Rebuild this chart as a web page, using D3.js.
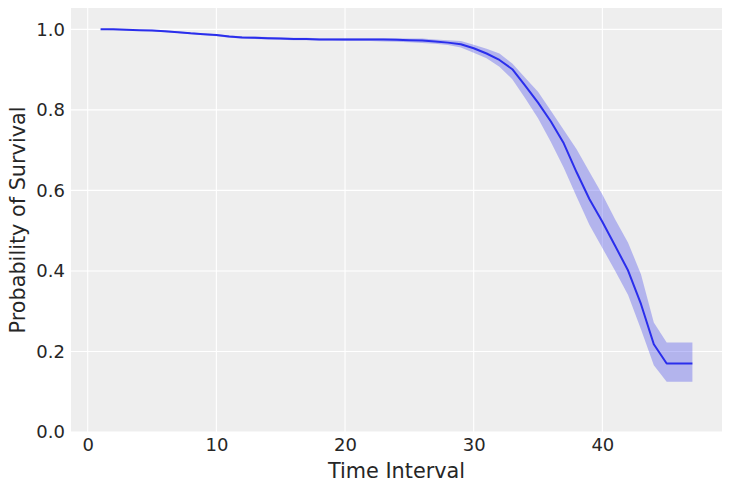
<!DOCTYPE html>
<html>
<head>
<meta charset="utf-8">
<script src="https://cdn.jsdelivr.net/npm/d3@7"></script>
<style>
  html, body { margin: 0; padding: 0; background: #fff; }
  svg { display: block; font-family: "DejaVu Sans", sans-serif; }
</style>
</head>
<body>
<div id="chart"></div>
<script>
// time interval index
const times = d3.range(1, 48);

// posterior mean survival
const survival = [
  1.000, 1.000, 0.999, 0.998, 0.997, 0.995, 0.993, 0.990, 0.988, 0.986,
  0.982, 0.980, 0.979, 0.978, 0.977, 0.976, 0.976, 0.975, 0.975, 0.975,
  0.975, 0.975, 0.975, 0.974, 0.973, 0.972, 0.970, 0.967, 0.963, 0.953,
  0.940, 0.924, 0.901, 0.860, 0.818, 0.771, 0.717, 0.645, 0.578, 0.522,
  0.462, 0.401, 0.318, 0.218, 0.170, 0.170, 0.170
];

// credible band
const lower = [
  0.999, 0.998, 0.997, 0.996, 0.995, 0.993, 0.991, 0.988, 0.986, 0.983,
  0.979, 0.977, 0.976, 0.975, 0.974, 0.973, 0.973, 0.972, 0.972, 0.971,
  0.971, 0.971, 0.970, 0.969, 0.968, 0.966, 0.964, 0.961, 0.955, 0.942,
  0.928, 0.907, 0.876, 0.829, 0.779, 0.720, 0.656, 0.584, 0.514, 0.457,
  0.400, 0.340, 0.255, 0.166, 0.125, 0.125, 0.125
];
const upper = [
  1.000, 1.000, 1.000, 0.999, 0.999, 0.997, 0.995, 0.992, 0.990, 0.988,
  0.985, 0.983, 0.982, 0.981, 0.980, 0.979, 0.979, 0.978, 0.978, 0.978,
  0.978, 0.978, 0.978, 0.978, 0.977, 0.977, 0.975, 0.973, 0.971, 0.962,
  0.952, 0.940, 0.915, 0.880, 0.845, 0.798, 0.750, 0.702, 0.646, 0.590,
  0.528, 0.470, 0.392, 0.272, 0.222, 0.222, 0.222
];

const xTicks = [0, 10, 20, 30, 40];
const yTicks = [0, 0.2, 0.4, 0.6, 0.8, 1.0];

const width = 731, height = 491;
const margin = { top: 8, right: 9, bottom: 59, left: 71 };
const lineColor = "#2a2eec";

const svg = d3.select("#chart").append("svg")
  .attr("width", width)
  .attr("height", height);

const x = d3.scaleLinear().domain([-1.3, 49.3]).range([margin.left, width - margin.right]);
const y = d3.scaleLinear().domain([0, 1.053]).range([height - margin.bottom, margin.top]);

// background
svg.append("rect")
  .attr("x", margin.left)
  .attr("y", margin.top)
  .attr("width", width - margin.left - margin.right)
  .attr("height", height - margin.top - margin.bottom)
  .attr("fill", "#eeeeee");

// grid
svg.append("g").selectAll("line")
  .data(xTicks)
  .join("line")
  .attr("x1", d => x(d)).attr("x2", d => x(d))
  .attr("y1", margin.top).attr("y2", height - margin.bottom)
  .attr("stroke", "#fff").attr("stroke-width", 1.1);

svg.append("g").selectAll("line")
  .data(yTicks)
  .join("line")
  .attr("y1", d => y(d)).attr("y2", d => y(d))
  .attr("x1", margin.left).attr("x2", width - margin.right)
  .attr("stroke", "#fff").attr("stroke-width", 1.1);

// band
const rows = times.map((t, i) => ({ t, m: survival[i], lo: lower[i], hi: upper[i] }));

svg.append("path")
  .datum(rows)
  .attr("fill", lineColor)
  .attr("fill-opacity", 0.3)
  .attr("d", d3.area().x(d => x(d.t)).y0(d => y(d.lo)).y1(d => y(d.hi)));

svg.append("path")
  .datum(rows)
  .attr("fill", "none")
  .attr("stroke", lineColor)
  .attr("stroke-width", 2)
  .attr("stroke-linejoin", "round")
  .attr("d", d3.line().x(d => x(d.t)).y(d => y(d.m)));

// axes
const xAxis = svg.append("g")
  .attr("transform", `translate(0,${height - margin.bottom})`)
  .call(d3.axisBottom(x).tickValues(xTicks).tickSize(0).tickPadding(6));

const yAxis = svg.append("g")
  .attr("transform", `translate(${margin.left},0)`)
  .call(d3.axisLeft(y).tickValues(yTicks).tickFormat(d3.format(".1f")).tickSize(0).tickPadding(6));

[xAxis, yAxis].forEach(a => {
  a.select(".domain").remove();
  a.selectAll("text")
    .attr("font-family", "DejaVu Sans, sans-serif")
    .attr("font-size", "18px")
    .attr("fill", "#262626");
});

// labels
svg.append("text")
  .attr("x", (margin.left + width - margin.right) / 2)
  .attr("y", 478)
  .attr("text-anchor", "middle")
  .attr("font-size", "20.8px")
  .attr("fill", "#262626")
  .text("Time Interval");

svg.append("text")
  .attr("transform", `translate(25,${(margin.top + height - margin.bottom) / 2}) rotate(-90)`)
  .attr("text-anchor", "middle")
  .attr("font-size", "20.8px")
  .attr("fill", "#262626")
  .text("Probability of Survival");
</script>
</body>
</html>
